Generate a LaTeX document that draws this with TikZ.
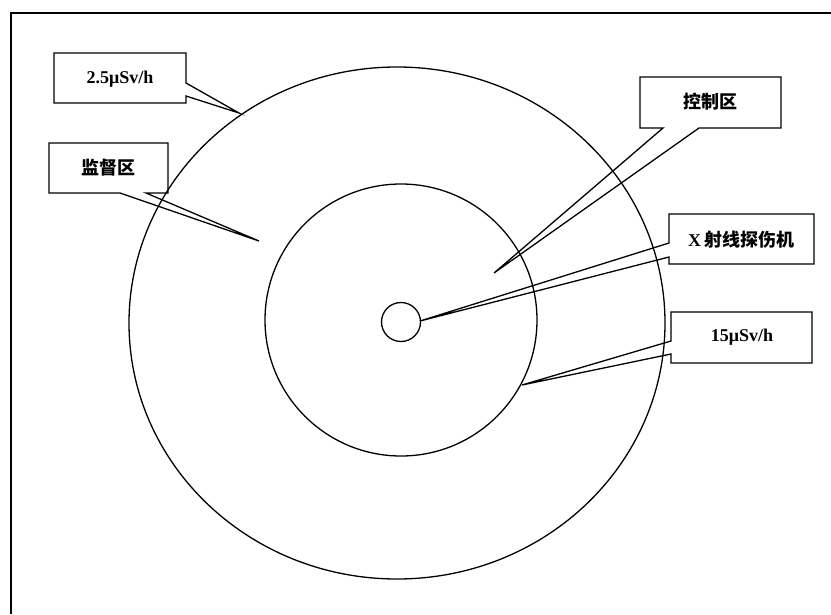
\documentclass[tikz,border=0pt]{standalone}
\usepackage{fontspec}
\setmainfont{Liberation Serif}
\newfontfamily\cjk{Noto Sans CJK SC}
\begin{document}
\begin{tikzpicture}[x=1pt,y=-1pt,
  callout/.style={draw=black,line width=1.3pt,line join=miter},
  ring/.style={draw=black,line width=1.3pt},
  lbl/.style={inner sep=0pt,font=\fontsize{18}{20}\selectfont\bfseries}]
\useasboundingbox (0,0) rectangle (831,614);
% frame
\draw[line width=2.2pt] (11,614) -- (11,13) -- (831,13);
% labels
\node[lbl] (t1) at (120,79) {2.5μSv/h};
\node[lbl] (t2) at (108,168) {\cjk 监督区};
\node[lbl] (t3) at (710,102) {\cjk 控制区};
\node[lbl] (t4) at (741,240) {X\,{\cjk 射线探伤机}};
\node[lbl] (t5) at (742,337) {15μSv/h};
% tips
\coordinate (p1) at (239,113);
\coordinate (p2) at (259,241);
\coordinate (p3) at (494,273);
\coordinate (p4) at (420,321);
\coordinate (p5) at (522,385);
% callouts
\draw[callout] (54,53) -- (186,53) -- (186,83) -- (p1) -- (186,96) -- (186,103) -- (54,103) -- cycle;
\draw[callout] (49,143) -- (168,143) -- (168,193) -- (146,193) -- (p2) -- (120,193) -- (49,193) -- cycle;
\draw[callout] (640,77) -- (781,77) -- (781,128) -- (699,128) -- (p3) -- (663,128) -- (640,128) -- cycle;
\draw[callout] (669,214) -- (814,214) -- (814,264) -- (669,264) -- (669,257) -- (p4) -- (669,243) -- cycle;
\draw[callout] (671,312) -- (812,312) -- (812,363) -- (671,363) -- (671,354) -- (p5) -- (671,341) -- cycle;
% circles
\coordinate (oc) at (397,323);
\coordinate (ic) at (401,320);
\coordinate (sc) at (401,322);
\draw[ring] (oc) ellipse [x radius=268pt, y radius=256pt];
\draw[ring] (ic) circle [radius=136pt];
\draw[ring] (sc) circle [radius=19.5pt];
\end{tikzpicture}
\end{document}
